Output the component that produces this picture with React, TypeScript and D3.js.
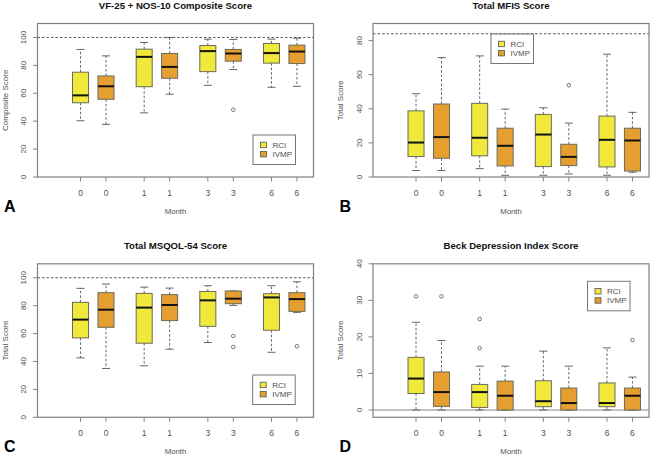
import React from "react";
import * as d3 from "d3";

const months = ["0", "0", "1", "1", "3", "3", "6", "6"];
const armNames = ["RCI", "IVMP"];
const armColors = ["#F0E93C", "#E59F31"];

// Panel A: VF-25 + NOS-10 Composite Score
const vfLow = [40.3, 37.7, 46, 59.3, 65.7, 77, 64.3, 65];
const vfQ1 = [53.2, 55.7, 64.7, 70.8, 75.5, 83, 81.6, 81.3];
const vfMed = [58.5, 65, 86.1, 78.9, 90.2, 88.5, 88.8, 89.9];
const vfQ3 = [75.1, 72.4, 91.6, 88.5, 94.2, 91.4, 95.7, 94.5];
const vfHigh = [91.4, 86.8, 96.4, 100, 98.8, 98.6, 98.8, 99.5];
const vfOut = [[], [], [], [], [], [48.2], [], []];
const vfTicks = [0, 20, 40, 60, 80, 100];

// Panel B: Total MFIS Score
const mfLow = [3.8, 3.8, 4.9, 1, 1, 1.8, 1, 2.8];
const mfQ1 = [12, 11, 12.4, 6.5, 6.1, 6.7, 5.9, 3.5];
const mfMed = [20.2, 23.4, 23, 18.3, 24.9, 11.8, 21.8, 21.4];
const mfQ3 = [38.8, 42.8, 43.2, 28.6, 36.7, 19.2, 35.7, 28.6];
const mfHigh = [48.8, 70, 71, 39.8, 40.6, 31.6, 72, 37.9];
const mfOut = [[], [], [], [], [], [53.8], [], []];
const mfTicks = [0, 20, 40, 60, 80];

// Panel C: Total MSQOL-54 Score
const mqLow = [42.6, 35, 36.9, 48.8, 53.6, 80.2, 46.6, 75.2];
const mqQ1 = [56.9, 64.5, 53.1, 69.3, 65.2, 81.4, 62.4, 75.9];
const mqMed = [70, 77.1, 78.6, 80.5, 83.8, 85, 85.9, 84.7];
const mqQ3 = [82.4, 89.3, 88.8, 87.9, 90.2, 90.5, 88.6, 89.3];
const mqHigh = [92.4, 95.5, 93.3, 92.6, 94.3, 90.5, 94.3, 97.1];
const mqOut = [[], [], [], [], [], [58.3, 50.4], [], [50.9]];
const mqTicks = [0, 20, 40, 60, 80, 100];

// Panel D: Beck Depression Index Score
const bdLow = [0, 0, 0, 0, 0, 0, 0, 0];
const bdQ1 = [4.5, 1, 0.7, 0, 0.9, 0, 0.9, 0];
const bdMed = [8.6, 4.9, 4.9, 3.9, 2.4, 1.9, 1.9, 3.9];
const bdQ3 = [14.4, 10.4, 7, 7.9, 8, 6, 7.4, 6];
const bdHigh = [24, 19, 12, 12, 16.1, 12, 17, 9];
const bdOut = [[31.1], [31.1], [24.9, 16.9], [], [], [], [], [19.1]];
const bdTicks = [0, 10, 20, 30, 40];

const PL = 37.5, PR = 313.5, PT = 23.5, PB = 177;
const TXT = "#505050";
const FONT = "'Liberation Sans', Arial, Helvetica, sans-serif";

function Txt(props: any) {
  const { x, y, children, size = 8, weight = "normal", fill = TXT, anchor = "middle", rotate = 0 } = props;
  return (
    <text
      transform={`translate(${x},${y}) rotate(${rotate})`}
      fontSize={size}
      fontWeight={weight}
      fill={fill}
      textAnchor={anchor}
      dominantBaseline="central"
      fontFamily={FONT}
    >
      {children}
    </text>
  );
}

function Panel(props: any) {
  const { ox, oy, title, letter, yLabel, domain, ticks, refLine, zeroLine, legend, low, q1, med, q3, high, out } = props;
  const x = d3.scaleLinear().domain([-0.69, 10.15]).range([PL, PR]);
  const y = d3.scaleLinear().domain(domain).range([PB, PT]);
  const pos = months.map((_, i) => Math.floor(i / 2) * 2.5 + (i % 2) + 1);
  const hw = (x(1.315) - x(1));
  const cap = hw / 2;
  return (
    <g transform={`translate(${ox},${oy})`}>
      {refLine !== undefined && (
        <line x1={PL} x2={PR} y1={y(refLine)} y2={y(refLine)} stroke="#444" strokeWidth={0.9} strokeDasharray="2.5,2" />
      )}
      {zeroLine && (
        <line x1={PL} x2={PR} y1={y(0)} y2={y(0)} stroke="#888" strokeWidth={1.2} />
      )}
      {pos.map((p, i) => {
        const cx = x(p);
        const fill = armColors[i % 2];
        return (
          <g key={i}>
            <line x1={cx} x2={cx} y1={y(q3[i])} y2={y(high[i])} stroke="#555" strokeWidth={0.9} strokeDasharray="2.5,2" />
            <line x1={cx} x2={cx} y1={y(q1[i])} y2={y(low[i])} stroke="#555" strokeWidth={0.9} strokeDasharray="2.5,2" />
            <line x1={cx - cap} x2={cx + cap} y1={y(high[i])} y2={y(high[i])} stroke="#555" strokeWidth={0.9} />
            <line x1={cx - cap} x2={cx + cap} y1={y(low[i])} y2={y(low[i])} stroke="#555" strokeWidth={0.9} />
            <rect x={cx - hw} y={y(q3[i])} width={2 * hw} height={y(q1[i]) - y(q3[i])} fill={fill} stroke="#6a6a5a" strokeWidth={1} />
            <line x1={cx - hw} x2={cx + hw} y1={y(med[i])} y2={y(med[i])} stroke="#111" strokeWidth={2} />
            {out[i].map((v: number, j: number) => (
              <circle key={j} cx={cx} cy={y(v)} r={1.8} fill="none" stroke="#555" strokeWidth={0.8} />
            ))}
            <line x1={cx} x2={cx} y1={PB} y2={PB + 4.5} stroke="#777" strokeWidth={0.9} />
            <Txt x={cx} y={PB + 15.5} size={8.5}>{months[i]}</Txt>
          </g>
        );
      })}
      {ticks.map((t: number) => (
        <g key={t}>
          <line x1={PL - 4.5} x2={PL} y1={y(t)} y2={y(t)} stroke="#777" strokeWidth={0.9} />
          <Txt x={PL - 14} y={y(t)} size={8} rotate={-90}>{t}</Txt>
        </g>
      ))}
      <rect x={legend[0]} y={legend[1]} width={42.5} height={29.5} fill="#fff" stroke="#777" strokeWidth={1} />
      {armNames.map((a, k) => (
        <g key={a}>
          <rect x={legend[0] + 7.5} y={legend[1] + 7.2 + k * 9.2} width={6} height={5.5} fill={armColors[k]} stroke="#555" strokeWidth={0.8} />
          <Txt x={legend[0] + 19.5} y={legend[1] + 10 + k * 9.2} size={8} anchor="start">{a}</Txt>
        </g>
      ))}
      <rect x={PL} y={PT} width={PR - PL} height={PB - PT} fill="none" stroke="#808080" strokeWidth={1.2} />
      <Txt x={(PL + PR) / 2} y={5.5} size={9.6} weight="bold" fill="#111">{title}</Txt>
      <Txt x={(PL + PR) / 2} y={211.5} size={7.8}>Month</Txt>
      <Txt x={PL - 32.5} y={(PT + PB) / 2} size={8} rotate={-90}>{yLabel}</Txt>
      <Txt x={4} y={206} size={16} weight="bold" fill="#000" anchor="start">{letter}</Txt>
    </g>
  );
}

export default function App() {
  return (
    <svg width={651} height={456} style={{ position: "absolute", left: 0, top: 0, background: "#fff" }}>
      <rect x={0} y={0} width={651} height={456} fill="#fff" />
      <Panel ox={0} oy={0} title="VF-25 + NOS-10 Composite Score" letter="A" yLabel="Composite Score"
        domain={[0, 110]} ticks={vfTicks} refLine={100} legend={[253, 135]}
        low={vfLow} q1={vfQ1} med={vfMed} q3={vfQ3} high={vfHigh} out={vfOut} />
      <Panel ox={335.5} oy={0} title="Total MFIS Score" letter="B" yLabel="Total Score"
        domain={[0, 90]} ticks={mfTicks} refLine={84} legend={[155.5, 34]}
        low={mfLow} q1={mfQ1} med={mfMed} q3={mfQ3} high={mfHigh} out={mfOut} />
      <Panel ox={0} oy={240.3} title="Total MSQOL-54 Score" letter="C" yLabel="Total Score"
        domain={[0, 110]} ticks={mqTicks} refLine={100} legend={[252.7, 134.7]}
        low={mqLow} q1={mqQ1} med={mqMed} q3={mqQ3} high={mqHigh} out={mqOut} />
      <Panel ox={335.5} oy={240.3} title="Beck Depression Index Score" letter="D" yLabel="Total Score"
        domain={[-2, 40]} ticks={bdTicks} zeroLine={true} legend={[252, 41]}
        low={bdLow} q1={bdQ1} med={bdMed} q3={bdQ3} high={bdHigh} out={bdOut} />
    </svg>
  );
}
